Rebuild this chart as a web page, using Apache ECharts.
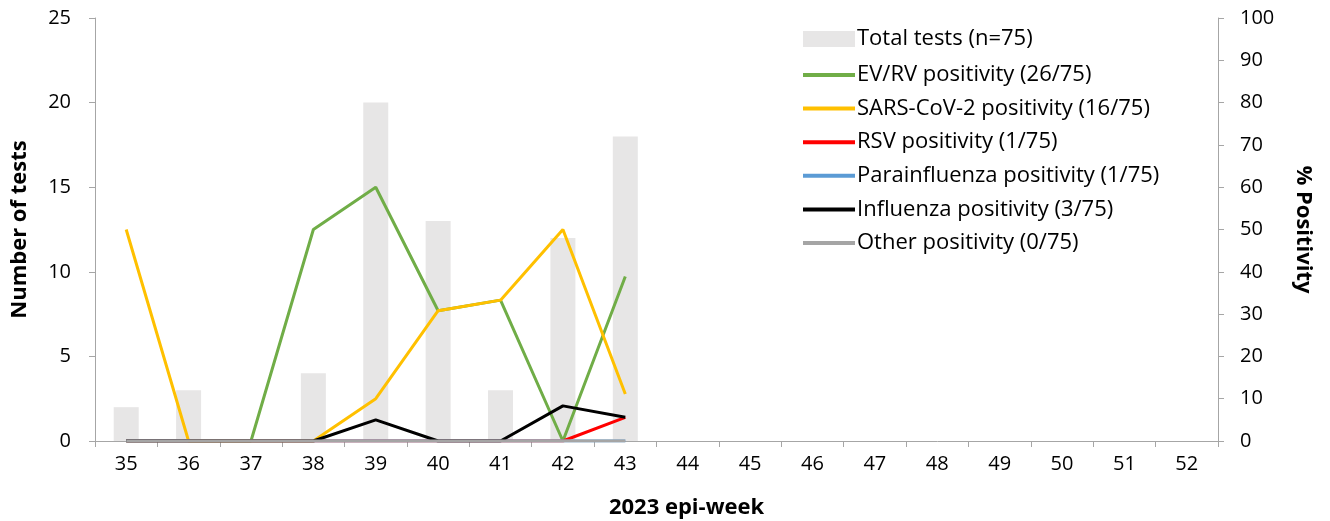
<!DOCTYPE html>
<html><head><meta charset="utf-8">
<script src="https://cdn.jsdelivr.net/npm/echarts@6/dist/echarts.min.js"></script>
<style>html,body{margin:0;padding:0;background:#fff}#c{width:1330px;height:521px}</style>
</head><body><div id="c"></div>
<script>
const weeks = ['35','36','37','38','39','40','41','42','43','44','45','46','47','48','49','50','51','52'];
const totalTests = [2,3,0,4,20,13,3,12,18,null,null,null,null,null,null,null,null,null];
const evrv = [0,0,0,50,60,30.8,33.3,0,38.9];
const sars = [50,0,0,0,10,30.8,33.3,50,11.1];
const rsv = [0,0,0,0,0,0,0,0,5.6];
const para = [0,0,0,0,0,0,0,0,0];
const flu = [0,0,0,0,5,0,0,8.3,5.6];
const other = [0,0,0,0,0,0,0,0,0];
const names = ['Total tests (n=75)','EV/RV positivity (26/75)','SARS-CoV-2 positivity (16/75)','RSV positivity (1/75)','Parainfluenza positivity (1/75)','Influenza positivity (3/75)','Other positivity (0/75)'];

const FONT = '"Open Sans", Lato, sans-serif';
const axisGray = '#A6A6A6';
function line(name, data, color){
  return {name, type:'line', yAxisIndex:1, data, symbol:'none', showSymbol:false,
    lineStyle:{color, width:3}, itemStyle:{color}, animation:false};
}
const legendText = {fontFamily:FONT, fontSize:22, color:'#000', padding:[0,0,0,-3]};
const chart = echarts.init(document.getElementById('c'));
chart.setOption({
  animation:false,
  textStyle:{fontFamily:FONT},
  grid:{left:95, right:112, top:18, bottom:80, containLabel:false, outerBoundsMode:'none'},
  legend:[
    {orient:'vertical', left:798, top:23, itemWidth:52, itemHeight:16,
      textStyle:legendText, data:[{name:names[0], icon:'rect'}]},
    {orient:'vertical', left:798, top:55, itemGap:3.6, itemWidth:52, itemHeight:4, icon:'rect',
      textStyle:Object.assign({}, legendText, {lineHeight:30}),
      data:names.slice(1)}
  ],
  xAxis:{type:'category', data:weeks, boundaryGap:true,
    axisLine:{lineStyle:{color:axisGray, width:1}},
    axisTick:{show:true, length:6, interval:0, lineStyle:{color:axisGray}},
    axisLabel:{fontFamily:FONT, fontSize:20, color:'#000', margin:13, interval:0},
    name:'2023 epi-week', nameLocation:'middle', nameGap:56,
    nameTextStyle:{fontFamily:FONT, fontSize:22, fontWeight:'bold', color:'#000', padding:[0,0,0,60]}
  },
  yAxis:[
    {type:'value', min:0, max:25, interval:5, position:'left',
      axisLine:{show:true, lineStyle:{color:axisGray}},
      axisTick:{show:true, length:6, lineStyle:{color:axisGray}},
      splitLine:{show:false},
      axisLabel:{fontFamily:FONT, fontSize:20, color:'#000', margin:24},
      name:'Number of tests', nameLocation:'middle', nameGap:64, nameRotate:90,
      nameTextStyle:{fontFamily:FONT, fontSize:22, fontWeight:'bold', color:'#000'}},
    {type:'value', min:0, max:100, interval:10, position:'right',
      axisLine:{show:true, lineStyle:{color:axisGray}},
      axisTick:{show:true, length:6, lineStyle:{color:axisGray}},
      splitLine:{show:false},
      axisLabel:{fontFamily:FONT, fontSize:20, color:'#000', margin:22},
      name:'% Positivity', nameLocation:'middle', nameGap:74, nameRotate:-90,
      nameTextStyle:{fontFamily:FONT, fontSize:22, fontWeight:'bold', color:'#000'}}
  ],
  series:[
    {name:names[0], type:'bar', data:totalTests, barWidth:25, itemStyle:{color:'#E7E6E6'}},
    line(names[1], evrv, '#70AD47'),
    line(names[2], sars, '#FFC000'),
    line(names[3], rsv, '#FF0000'),
    line(names[4], para, '#5B9BD5'),
    line(names[5], flu, '#000000'),
    line(names[6], other, '#A5A5A5')
  ]
});
</script></body></html>
